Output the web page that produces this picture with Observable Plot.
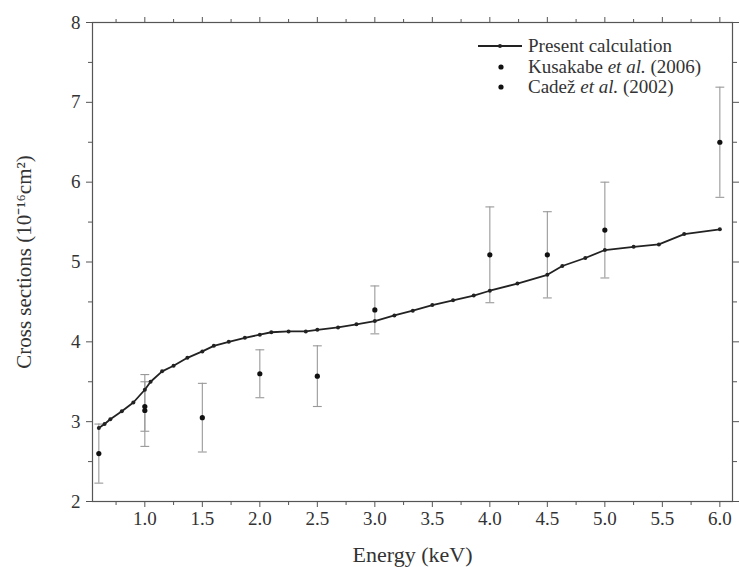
<!DOCTYPE html>
<html>
<head>
<meta charset="utf-8">
<script src="https://cdn.jsdelivr.net/npm/d3@7"></script>
<script src="https://cdn.jsdelivr.net/npm/@observablehq/plot@0.6"></script>
<style>
  html, body { margin: 0; padding: 0; background: #fff; }
  #wrap { position: relative; width: 740px; height: 567px; }
  #legend { position: absolute; left: 476px; top: 36px; font-family: "Liberation Serif", serif; font-size: 19px; color: #333; }
  #legend .row { display: flex; align-items: center; height: 20.5px; }
  #legend svg { width: 52px; height: 20px; flex: none; }
  #legend i { font-style: italic; }
</style>
</head>
<body>
<div id="wrap"></div>
<script>
// Present calculation
const calcEnergy = [0.6,0.65,0.7,0.8,0.9,1.0,1.05,1.15,1.25,1.37,1.5,1.6,1.73,1.87,2.0,2.1,2.25,2.4,2.5,2.68,2.84,3.0,3.17,3.33,3.5,3.68,3.86,4.0,4.24,4.5,4.63,4.83,5.0,5.25,5.47,5.69,6.0];
const calcValue  = [2.92,2.97,3.03,3.13,3.24,3.40,3.50,3.63,3.70,3.80,3.88,3.95,4.00,4.05,4.09,4.12,4.13,4.13,4.15,4.18,4.22,4.26,4.33,4.39,4.46,4.52,4.58,4.64,4.73,4.84,4.95,5.05,5.15,5.19,5.22,5.35,5.41];
// Kusakabe et al. (2006)
const kusEnergy = [1.0, 3.0, 4.0, 4.5, 5.0, 6.0];
const kusValue  = [3.19, 4.40, 5.09, 5.09, 5.40, 6.50];
const kusError  = [0.31, 0.30, 0.60, 0.54, 0.60, 0.69];
// Cadež et al. (2002)
const cadEnergy = [0.6, 1.0, 1.5, 2.0, 2.5];
const cadValue  = [2.60, 3.14, 3.05, 3.60, 3.57];
const cadError  = [0.37, 0.45, 0.43, 0.30, 0.38];
// ticks
const xMajor = [1.0,1.5,2.0,2.5,3.0,3.5,4.0,4.5,5.0,5.5,6.0];
const xMinor = [0.75,1.25,1.75,2.25,2.75,3.25,3.75,4.25,4.75,5.25,5.75];
const yMajor = [2,3,4,5,6,7,8];
const yMinor = [2.5,3.5,4.5,5.5,6.5,7.5];
const xTitle = "Energy (keV)";
const yTitle = "Cross sections (10⁻¹⁶cm²)";

const calc = calcEnergy.map((e, i) => ({e, v: calcValue[i]}));
const exp = [
  ...kusEnergy.map((e, i) => ({e, v: kusValue[i], lo: kusValue[i] - kusError[i], hi: kusValue[i] + kusError[i], src: "Kusakabe"})),
  ...cadEnergy.map((e, i) => ({e, v: cadValue[i], lo: cadValue[i] - cadError[i], hi: cadValue[i] + cadError[i], src: "Cadez"}))
];

const capSymbol = { draw(ctx, size) { const w = Math.sqrt(size) / 2; ctx.moveTo(-w, 0); ctx.lineTo(w, 0); } };
const axisColor = "#555";
const blank = () => "";

const chart = Plot.plot({
  width: 740,
  height: 567,
  marginLeft: 92,
  marginRight: 8,
  marginTop: 22,
  marginBottom: 66,
  style: { fontFamily: "Liberation Serif, serif", fontSize: "19px", color: "#333", background: "#fff" },
  x: { domain: [0.545, 6.11] },
  y: { domain: [2, 8] },
  marks: [
    Plot.frame({ stroke: axisColor, strokeWidth: 1.2 }),
    Plot.axisX(xMajor, { anchor: "bottom", tickSize: 6, tickPadding: 4, tickFormat: d3.format(".1f"), stroke: axisColor, fontSize: 19, label: null }),
    Plot.axisX([], { anchor: "bottom", tickSize: 0, fontSize: 22, label: xTitle, labelArrow: "none", labelAnchor: "center", labelOffset: 60 }),
    Plot.axisX(xMinor, { anchor: "bottom", tickSize: 4, tickFormat: blank, stroke: axisColor, label: null }),
    Plot.axisX(xMajor, { anchor: "top", tickSize: 6, tickFormat: blank, stroke: axisColor, label: null }),
    Plot.axisX(xMinor, { anchor: "top", tickSize: 4, tickFormat: blank, stroke: axisColor, label: null }),
    Plot.axisY(yMajor, { anchor: "left", tickSize: 6, tickPadding: 6, tickFormat: d3.format("d"), stroke: axisColor, fontSize: 19, label: null }),
    Plot.axisY([], { anchor: "left", tickSize: 0, fontSize: 21, label: yTitle, labelArrow: "none", labelAnchor: "center", labelOffset: 76 }),
    Plot.axisY(yMinor, { anchor: "left", tickSize: 4, tickFormat: blank, stroke: axisColor, label: null }),
    Plot.axisY(yMajor, { anchor: "right", tickSize: 6, tickFormat: blank, stroke: axisColor, label: null }),
    Plot.axisY(yMinor, { anchor: "right", tickSize: 4, tickFormat: blank, stroke: axisColor, label: null }),
    // error bars
    Plot.ruleX(exp, { x: "e", y1: "lo", y2: "hi", stroke: "#999", strokeWidth: 1.1 }),
    Plot.dot(exp, { x: "e", y: "lo", symbol: capSymbol, r: 5, stroke: "#999", strokeWidth: 1.1, fill: "none" }),
    Plot.dot(exp, { x: "e", y: "hi", symbol: capSymbol, r: 5, stroke: "#999", strokeWidth: 1.1, fill: "none" }),
    // calculation
    Plot.line(calc, { x: "e", y: "v", stroke: "#222", strokeWidth: 1.8 }),
    Plot.dot(calc, { x: "e", y: "v", r: 2, fill: "#222" }),
    // experiments
    Plot.dot(exp, { x: "e", y: "v", r: 2.6, fill: "#111" })
  ]
});

const wrap = document.getElementById("wrap");
wrap.appendChild(chart);
const legend = document.createElement("div");
legend.id = "legend";
legend.innerHTML = `
  <div class="row"><svg viewBox="0 0 52 20"><line x1="2" y1="10" x2="46" y2="10" stroke="#222" stroke-width="1.8"/><circle cx="24" cy="10" r="2" fill="#222"/></svg><span>Present calculation</span></div>
  <div class="row"><svg viewBox="0 0 52 20"><circle cx="25" cy="10" r="2.6" fill="#111"/></svg><span>Kusakabe <i>et al.</i> (2006)</span></div>
  <div class="row"><svg viewBox="0 0 52 20"><circle cx="25" cy="10" r="2.6" fill="#111"/></svg><span>Cadež <i>et al.</i> (2002)</span></div>`;
wrap.appendChild(legend);
</script>
</body>
</html>
